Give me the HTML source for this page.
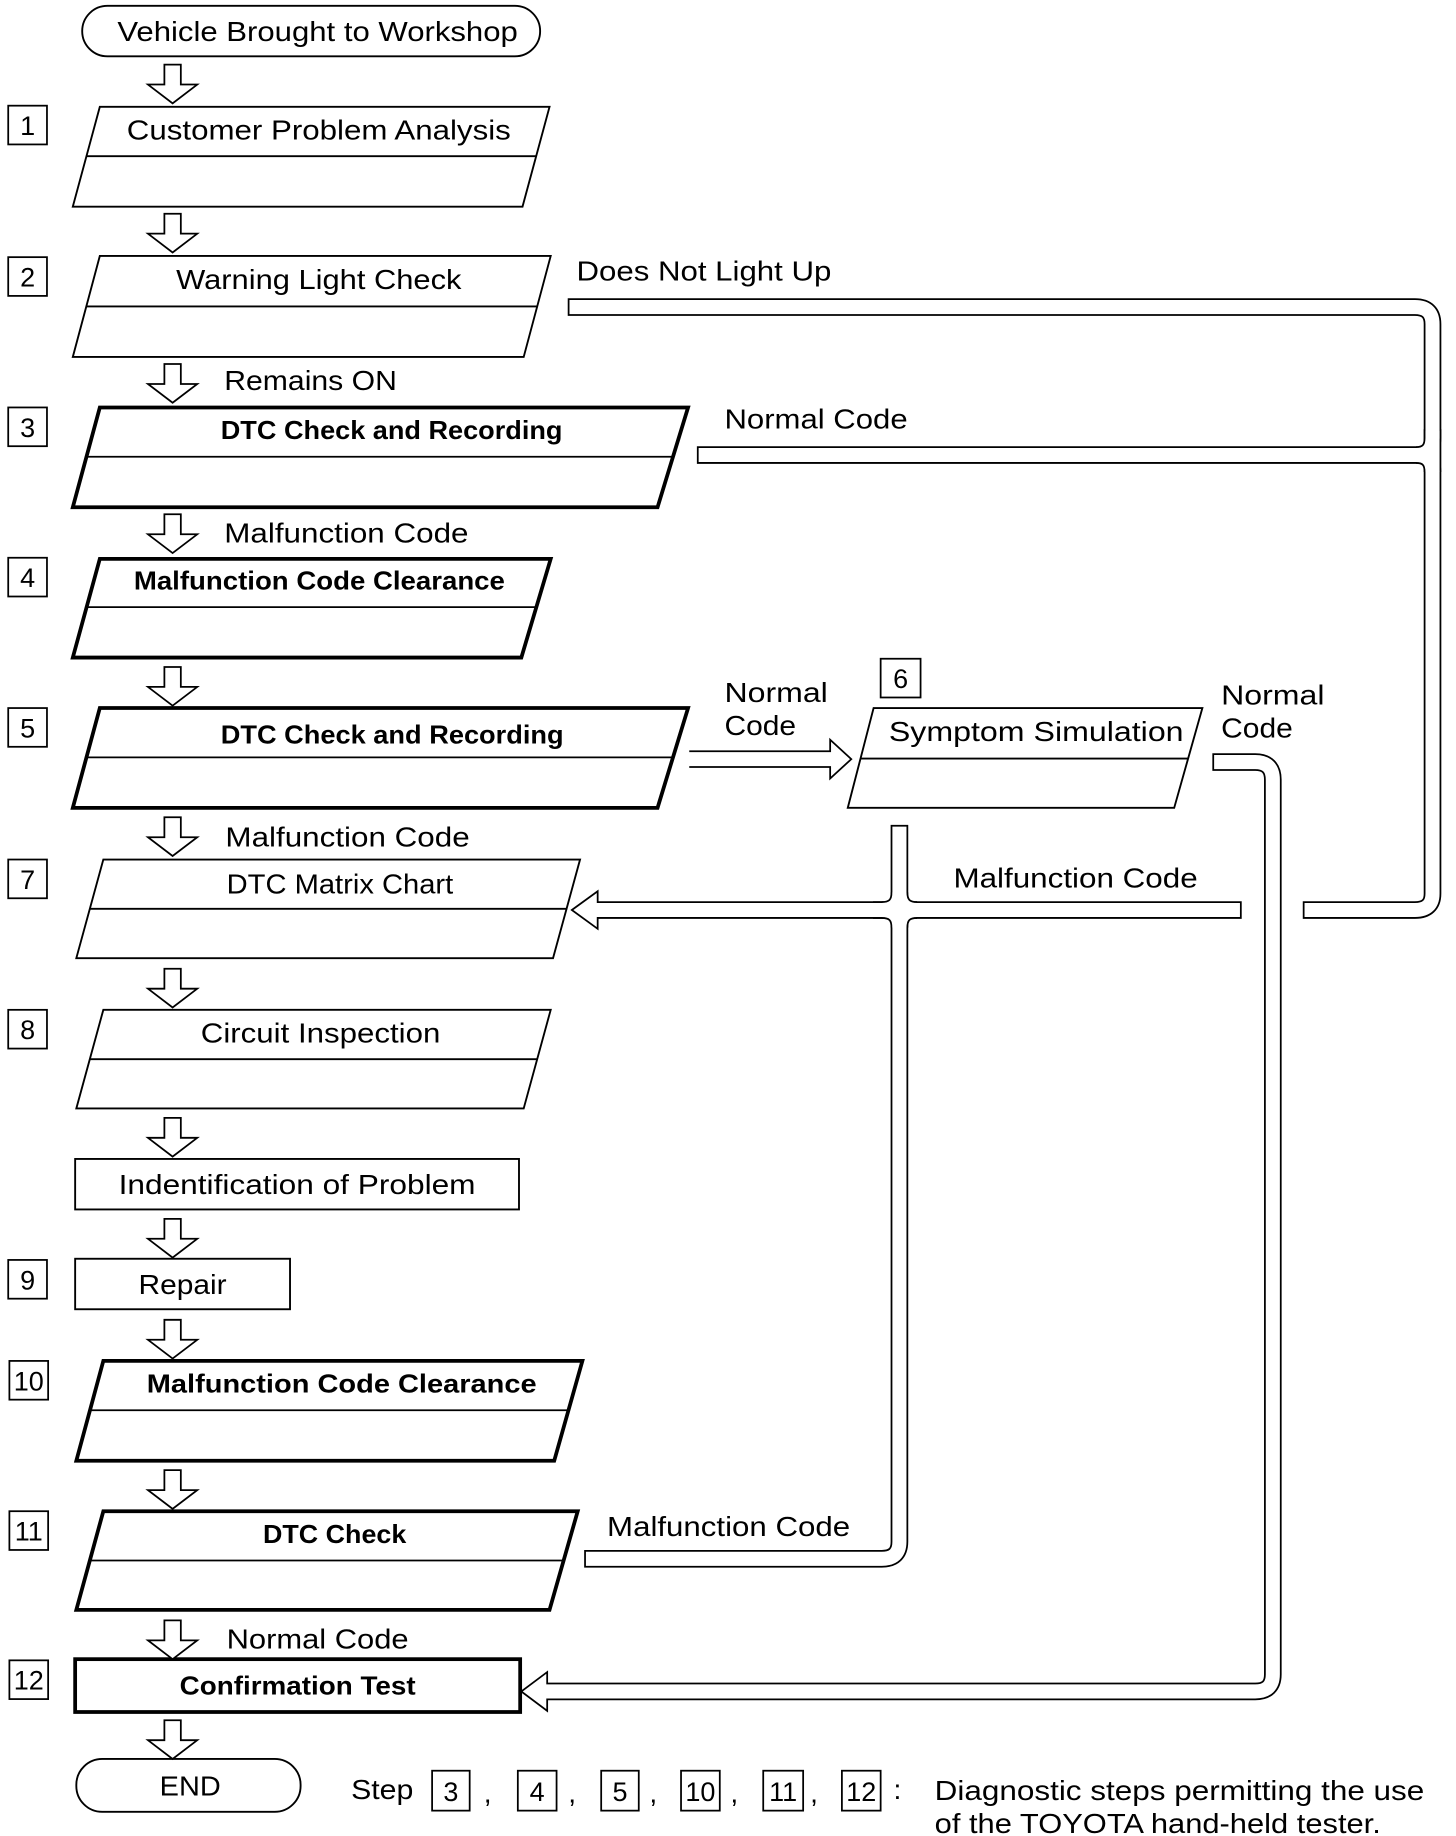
<!DOCTYPE html>
<html><head><meta charset="utf-8"><style>html,body{margin:0;padding:0;background:#fff}svg{display:block}</style></head>
<body>
<svg width="1456" height="1836" viewBox="0 0 1240 1563.6" preserveAspectRatio="none" xmlns="http://www.w3.org/2000/svg" font-family="Liberation Sans, sans-serif" font-size="24" fill="#000">
<rect width="1240" height="1564" fill="#fff"/>
<g fill="none" stroke="#000" stroke-width="1.6">
<rect x="70" y="5" width="390" height="43" rx="21.5"/>
<rect x="65" y="1498" width="191" height="45" rx="22"/>
<polygon points="85,91 468,91 445,176 62,176"/><line x1="74" y1="133" x2="457" y2="133"/>
<polygon points="85,218 469,218 446,304 62,304"/><line x1="74" y1="261" x2="458" y2="261"/>
<polygon points="88,732 494,732 471,816 65,816"/><line x1="77" y1="774" x2="483" y2="774"/>
<polygon points="88,860 469,860 446,944 65,944"/><line x1="77" y1="902" x2="458" y2="902"/>
<rect x="64" y="987" width="378" height="43"/>
<rect x="64" y="1072" width="183" height="43"/>
<polygon points="744,603 1024,603 1000,688 722,688"/><line x1="733" y1="646" x2="1012" y2="646"/>
</g>
<g fill="none" stroke="#000" stroke-width="3.2">
<polygon points="85,347 586,347 560,432 62,432"/>
<polygon points="85,476 469,476 444,560 62,560"/>
<polygon points="85,603 586,603 560,688 62,688"/>
<polygon points="88,1159 496,1159 472,1244 65,1244"/>
<polygon points="88,1287 492,1287 468,1371 65,1371"/>
<rect x="64" y="1413" width="379" height="45"/>
</g>
<g stroke="#000" stroke-width="1.5">
<line x1="74" y1="389" x2="574" y2="389"/><line x1="74" y1="517" x2="457" y2="517"/>
<line x1="74" y1="645" x2="574" y2="645"/><line x1="77" y1="1201" x2="484" y2="1201"/>
<line x1="77" y1="1329" x2="480" y2="1329"/>
</g>
<!-- down arrows -->
<g fill="#fff" stroke="#000" stroke-width="1.5">
<polygon points="140,55 154,55 154,72 168,72 147,88 126,72 140,72"/>
<polygon points="140,182 154,182 154,199 168,199 147,215 126,199 140,199"/>
<polygon points="140,310 154,310 154,327 168,327 147,343 126,327 140,327"/>
<polygon points="140,438 154,438 154,455 168,455 147,471 126,455 140,455"/>
<polygon points="140,568 154,568 154,585 168,585 147,601 126,585 140,585"/>
<polygon points="140,696 154,696 154,713 168,713 147,729 126,713 140,713"/>
<polygon points="140,825 154,825 154,842 168,842 147,858 126,842 140,842"/>
<polygon points="140,952 154,952 154,969 168,969 147,985 126,969 140,969"/>
<polygon points="140,1038 154,1038 154,1055 168,1055 147,1071 126,1055 140,1055"/>
<polygon points="140,1124 154,1124 154,1141 168,1141 147,1157 126,1141 140,1141"/>
<polygon points="140,1252 154,1252 154,1269 168,1269 147,1285 126,1269 140,1269"/>
<polygon points="140,1380 154,1380 154,1397 168,1397 147,1413 126,1397 140,1397"/>
<polygon points="140,1465 154,1465 154,1482 168,1482 147,1498 126,1482 140,1482"/>
</g>
<!-- pipes black -->
<g fill="none" stroke="#000" stroke-width="15">
<path stroke-linecap="square" d="M491,261.5 H1205 Q1220,261.5 1220,276 V761 Q1220,775 1205,775 H1117"/>
<path stroke-linecap="square" d="M601,387.5 H1206 Q1220,387.5 1220,373"/>
<path d="M1206,387.5 Q1220,387.5 1220,402"/>
<path stroke-linecap="square" d="M1050,775 H510"/>
<path stroke-linecap="square" d="M766,710 V760 Q766,775 751,775"/>
<path d="M766,760 Q766,775 781,775"/>
<path stroke-linecap="square" d="M766,790 V1313 Q766,1327.5 751,1327.5 H505"/>
<path d="M751,775 Q766,775 766,790 Q766,775 781,775"/>
<path stroke-linecap="square" d="M1040,649 H1069 Q1084,649 1084,664 V1426 Q1084,1440.5 1069,1440.5 H468"/>
<path d="M587,646.5 H709"/>
</g>
<g fill="#fff" stroke="#000" stroke-width="1.5">
<polygon points="487,775 509,759 509,791"/>
<polygon points="444,1440.5 466,1424 466,1457"/>
<polygon points="725,646.5 707,630 707,663"/>
</g>
<g fill="none" stroke="#fff" stroke-width="12">
<path stroke-linecap="square" d="M491,261.5 H1205 Q1220,261.5 1220,276 V761 Q1220,775 1205,775 H1117"/>
<path stroke-linecap="square" d="M601,387.5 H1206 Q1220,387.5 1220,373"/>
<path d="M1206,387.5 Q1220,387.5 1220,402"/>
<path stroke-linecap="square" d="M1050,775 H507"/>
<path stroke-linecap="square" d="M766,710 V760 Q766,775 751,775"/>
<path d="M766,760 Q766,775 781,775"/>
<path stroke-linecap="square" d="M766,790 V1313 Q766,1327.5 751,1327.5 H505"/>
<path d="M751,775 Q766,775 766,790 Q766,775 781,775"/>
<path stroke-linecap="square" d="M1040,649 H1069 Q1084,649 1084,664 V1426 Q1084,1440.5 1069,1440.5 H464"/>
<path d="M586,646.5 H711"/>
</g>
<!-- step boxes -->
<g fill="none" stroke="#000" stroke-width="1.5">
<rect x="7" y="90" width="33" height="33"/><rect x="7" y="219" width="33" height="33"/>
<rect x="7" y="347" width="33" height="33"/><rect x="7" y="475" width="33" height="33"/>
<rect x="7" y="603" width="33" height="33"/><rect x="750" y="561" width="34" height="33"/>
<rect x="7" y="732" width="33" height="33"/><rect x="7" y="860" width="33" height="33"/>
<rect x="7" y="1073" width="33" height="33"/><rect x="8" y="1159" width="33" height="33"/>
<rect x="8" y="1287" width="33" height="33"/><rect x="8" y="1414" width="33" height="33"/>
<rect x="368" y="1508" width="32" height="34"/><rect x="441" y="1508" width="33" height="34"/>
<rect x="512" y="1508" width="32" height="34"/><rect x="580" y="1508" width="33" height="34"/>
<rect x="650" y="1508" width="34" height="34"/><rect x="717" y="1508" width="33" height="34"/>
</g>
<g text-anchor="middle" font-size="23">
<text x="23.5" y="115">1</text><text x="23.5" y="244">2</text><text x="23.5" y="372">3</text>
<text x="23.5" y="500">4</text><text x="23.5" y="628">5</text><text x="767" y="586">6</text>
<text x="23.5" y="757">7</text><text x="23.5" y="885">8</text><text x="23.5" y="1098">9</text>
<text x="24.5" y="1184">10</text><text x="24.5" y="1312">11</text><text x="24.5" y="1439">12</text>
<text x="384" y="1534">3</text><text x="457.5" y="1534">4</text><text x="528" y="1534">5</text>
<text x="596.5" y="1534">10</text><text x="667" y="1534">11</text><text x="733.5" y="1534">12</text>
</g>
<g lengthAdjust="spacingAndGlyphs">
<text x="100" y="35" textLength="341" lengthAdjust="spacingAndGlyphs">Vehicle Brought to Workshop</text>
<text x="108" y="119" textLength="327" lengthAdjust="spacingAndGlyphs">Customer Problem Analysis</text>
<text x="150" y="246" textLength="243" lengthAdjust="spacingAndGlyphs">Warning Light Check</text>
<text x="491" y="239" textLength="217" lengthAdjust="spacingAndGlyphs">Does Not Light Up</text>
<text x="191" y="332" textLength="147" lengthAdjust="spacingAndGlyphs">Remains ON</text>
<text x="617" y="365" textLength="156" lengthAdjust="spacingAndGlyphs">Normal Code</text>
<text x="191" y="462" textLength="208" lengthAdjust="spacingAndGlyphs">Malfunction Code</text>
<text x="617" y="598" textLength="88" lengthAdjust="spacingAndGlyphs">Normal</text>
<text x="617" y="626" textLength="61" lengthAdjust="spacingAndGlyphs">Code</text>
<text x="1040" y="600" textLength="88" lengthAdjust="spacingAndGlyphs">Normal</text>
<text x="1040" y="628" textLength="61" lengthAdjust="spacingAndGlyphs">Code</text>
<text x="757" y="631" textLength="251" lengthAdjust="spacingAndGlyphs">Symptom Simulation</text>
<text x="192" y="721" textLength="208" lengthAdjust="spacingAndGlyphs">Malfunction Code</text>
<text x="193" y="761" textLength="193" lengthAdjust="spacingAndGlyphs">DTC Matrix Chart</text>
<text x="812" y="756" textLength="208" lengthAdjust="spacingAndGlyphs">Malfunction Code</text>
<text x="171" y="888" textLength="204" lengthAdjust="spacingAndGlyphs">Circuit Inspection</text>
<text x="101" y="1017" textLength="304" lengthAdjust="spacingAndGlyphs">Indentification of Problem</text>
<text x="118" y="1102" textLength="75" lengthAdjust="spacingAndGlyphs">Repair</text>
<text x="517" y="1308" textLength="207" lengthAdjust="spacingAndGlyphs">Malfunction Code</text>
<text x="193" y="1404" textLength="155" lengthAdjust="spacingAndGlyphs">Normal Code</text>
<text x="136" y="1529" textLength="52" lengthAdjust="spacingAndGlyphs">END</text>
<text x="299" y="1532" textLength="53" lengthAdjust="spacingAndGlyphs">Step</text>
<text x="412" y="1535">,</text><text x="484" y="1535">,</text><text x="553" y="1535">,</text>
<text x="622" y="1535">,</text><text x="690" y="1535">,</text><text x="761" y="1532">:</text>
<text x="796" y="1533" textLength="417" lengthAdjust="spacingAndGlyphs">Diagnostic steps permitting the use</text>
<text x="796" y="1561" textLength="380" lengthAdjust="spacingAndGlyphs">of the TOYOTA hand-held tester.</text>
</g>
<g font-weight="bold" font-size="22">
<text x="188" y="374" textLength="291" lengthAdjust="spacingAndGlyphs">DTC Check and Recording</text>
<text x="114" y="502" textLength="316" lengthAdjust="spacingAndGlyphs">Malfunction Code Clearance</text>
<text x="188" y="633" textLength="292" lengthAdjust="spacingAndGlyphs">DTC Check and Recording</text>
<text x="125" y="1186" textLength="332" lengthAdjust="spacingAndGlyphs">Malfunction Code Clearance</text>
<text x="224" y="1314" textLength="122" lengthAdjust="spacingAndGlyphs">DTC Check</text>
<text x="153" y="1443" textLength="201" lengthAdjust="spacingAndGlyphs">Confirmation Test</text>
</g>
</svg>
</body></html>
